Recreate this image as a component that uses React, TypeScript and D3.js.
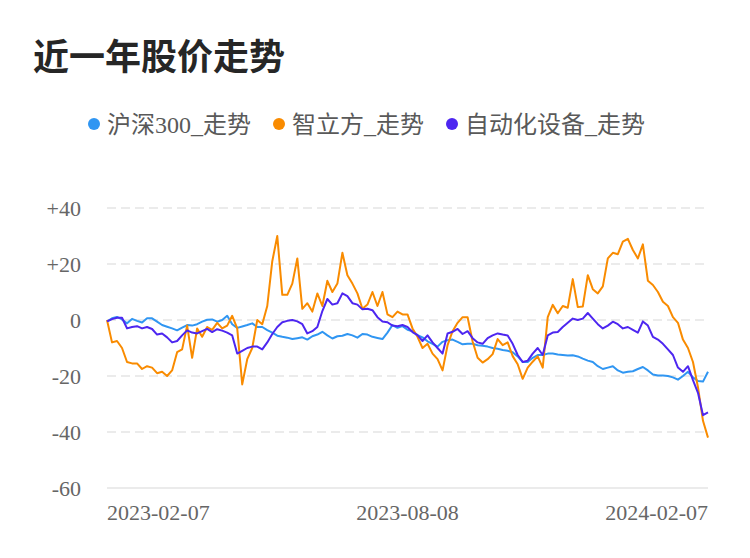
import React, { useEffect, useRef } from "react";
import * as d3 from "d3";

// 近一年股价走势: three cumulative % change lines, daily-ish samples

const seriesNames = ["沪深300_走势", "智立方_走势", "自动化设备_走势"];
const seriesColors = ["#3096f2", "#f98b00", "#4d26f0"];

const hs300 = [
  -0.6, 0.6, 1.1, 0.2, -1.2, 0.4, -0.3, -0.9, 0.6, 0.6,
  -0.6, -1.8, -2.4, -3, -3.7, -2.7, -1.8, -2, -1.5, -0.6,
  0.1, 0.2, -0.6, 0, 1.5, -1.5, -2.8, -2.3, -1.8, -1.2,
  -2.5, -2.5, -3.6, -4.5, -5.6, -6, -6.3, -6.8, -6.5, -6.2,
  -7, -5.8, -5.2, -4.2, -5.5, -6.6, -5.8, -5.6, -5, -5.5,
  -6.3, -5, -5.2, -6, -6.4, -6.8, -4.5, -1.8, -2.8, -2.2,
  -3.5, -4, -5.4, -6.2, -7.6, -8.5, -9.5, -7.8, -7.2, -7,
  -7.8, -8.7, -8.5, -8.5, -9, -9.2, -9.5, -10, -10.3, -10.7,
  -11, -11.5, -13, -15, -15, -13.5, -12.5, -12.5, -12, -12,
  -12.3, -12.5, -12.7, -12.6, -13, -13.8, -14.5, -15, -16.5, -17.5,
  -17, -16.5, -18, -18.8, -18.5, -18.3, -17.5, -16.8, -18, -19.5,
  -19.8, -19.8, -20, -20.5, -21.3, -20, -18.5, -20.5, -21.8, -22,
  -18.5,
];

const zhiLiFang = [
  0, -8, -7.5, -10, -15, -15.5, -15.5, -17.5, -16.5, -17,
  -19, -18.5, -20, -18, -11.5, -10.5, -2, -13.5, -3, -6,
  -2.5, -3.5, -1, -3, -2, 1.5, -3, -23, -14, -10,
  0, -1.5, 5, 21, 30, 9, 9, 13, 22, 4,
  6, 3, 9.5, 5, 14, 10, 13, 24, 16, 13,
  9.5, 4, 5.5, 10, 5, 10, 2, 1, 3, 2,
  2, -3, -6, -10, -8.5, -12, -14, -18, -9, -4,
  -1, 1, 1, -7.7, -13.5, -15.2, -14, -12.2, -6.8, -9,
  -8, -12.9, -15.8, -21, -17, -14.9, -13, -17, 1, 5.4,
  2.4, 5, 4.4, 14.6, 4.6, 4.8, 16, 11, 9.5, 12,
  22, 24, 23.5, 28, 29, 25, 22, 27, 14, 12.5,
  10, 6.5, 5, 1, -1, -7, -10, -15, -24, -36,
  -42,
];

const zidonghua = [
  -0.5, 0.3, 0.8, 0.8, -3, -2.5, -2.2, -3, -2.5, -3.2,
  -5.2, -4.8, -6.2, -8, -7.5, -5.5, -3.7, -4.5, -4.8, -4,
  -3.2, -4.3, -3.3, -3.8, -4.5, -5.5, -12, -11, -10, -9.5,
  -9.5, -10.5, -8, -5, -2.5, -0.8, -0.3, 0, -0.5, -1.5,
  -4.8, -4, -2.5, 3.2, 7.5, 5.5, 6, 9.5, 8.5, 6,
  5.5, 3.8, 4, 3.5, 1, -0.5, -0.8, -2, -2.2, -1.8,
  -2.5, -4.3, -5.4, -7.5, -5.5, -8, -10, -12, -4.8, -4.2,
  -3.2, -5, -4, -6.5, -8, -8.5, -6.5, -5.5, -4.8, -5.2,
  -5.5, -8.5, -12.5, -15, -14.5, -12, -10, -12.5, -5.5, -4.5,
  -4.3, -2.5, -1, 0.5, 0, 0.5, 2.5, 0.5, -1.5, -3,
  -2, -0.6, -1.5, -3, -2.5, -3.5, -4.5, -0.5, -2, -6,
  -7, -8.5, -10.5, -12.5, -17, -18.5, -16.5, -21.5, -26, -34,
  -33,
];

const yTicks = [40, 20, 0, -20, -40, -60];
const xTickIndex = [0, 60, 120];
const xTickLabels = ["2023-02-07", "2023-08-08", "2024-02-07"];

const SERIF = '"Liberation Serif", "Noto Sans CJK SC", serif';

export default function App() {
  const svgRef = useRef<SVGSVGElement>(null);

  useEffect(() => {
    const svg = d3.select(svgRef.current);
    svg.selectAll("*").remove();

    const left = 107, right = 708, top = 208, bottom = 488;

    const x = d3.scaleLinear().domain([0, hs300.length - 1]).range([left, right]);
    const y = d3.scaleLinear().domain([-60, 40]).range([bottom, top]);

    // title
    svg.append("text")
      .attr("x", 33).attr("y", 70)
      .attr("font-family", '"Noto Sans CJK SC", sans-serif')
      .attr("font-weight", 700).attr("font-size", 36)
      .attr("fill", "#262626")
      .text("近一年股价走势");

    // legend
    const legend = svg.append("g");
    let lx = 88;
    seriesNames.forEach((name, i) => {
      legend.append("circle")
        .attr("cx", lx + 6).attr("cy", 124).attr("r", 6)
        .attr("fill", seriesColors[i]);
      const t = legend.append("text")
        .attr("x", lx + 19).attr("y", 133)
        .attr("font-family", SERIF).attr("font-size", 24)
        .attr("fill", "#595959")
        .text(name);
      const w = (t.node() as SVGTextElement).getComputedTextLength();
      lx += 19 + w + 22;
    });

    // grid
    const grid = svg.append("g");
    yTicks.forEach((v) => {
      grid.append("line")
        .attr("x1", left).attr("x2", right)
        .attr("y1", y(v)).attr("y2", y(v))
        .attr("stroke", "#ebebeb").attr("stroke-width", 2)
        .attr("stroke-dasharray", v === -60 ? null : "9,5");
    });

    // y axis labels
    svg.append("g").selectAll("text").data(yTicks).join("text")
      .attr("x", 81).attr("y", (d) => y(d)).attr("dy", "0.35em")
      .attr("text-anchor", "end")
      .attr("font-family", SERIF).attr("font-size", 22)
      .attr("fill", "#666")
      .text((d) => (d > 0 ? `+${d}` : `${d}`));

    // x axis labels
    svg.append("g").selectAll("text").data(xTickIndex).join("text")
      .attr("x", (d) => x(d)).attr("y", 520)
      .attr("text-anchor", (_d, i) => (i === 0 ? "start" : i === xTickIndex.length - 1 ? "end" : "middle"))
      .attr("font-family", SERIF).attr("font-size", 22)
      .attr("fill", "#666")
      .text((_d, i) => xTickLabels[i]);

    const line = d3.line<number>()
      .x((_d, i) => x(i))
      .y((d) => y(d));

    [hs300, zhiLiFang, zidonghua].forEach((s, i) => {
      svg.append("path")
        .datum(s)
        .attr("fill", "none")
        .attr("stroke", seriesColors[i])
        .attr("stroke-width", 2)
        .attr("stroke-linejoin", "round")
        .attr("d", line);
    });
  }, []);

  return (
    <svg
      ref={svgRef}
      width={750}
      height={558}
      style={{ position: "absolute", left: 0, top: 0, background: "#fff" }}
    />
  );
}
